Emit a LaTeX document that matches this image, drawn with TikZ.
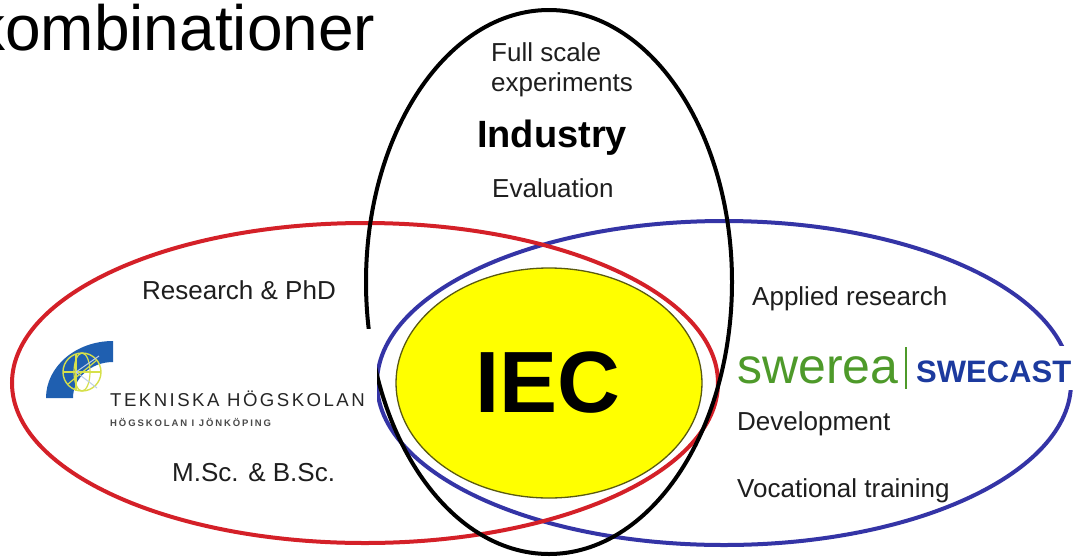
\documentclass[tikz,border=0pt]{standalone}
\usepackage{fontspec}
\setmainfont{Liberation Sans}
\definecolor{txt}{HTML}{1E1E1E}
\definecolor{ringred}{HTML}{D42028}
\definecolor{ringblue}{HTML}{3434A6}
\definecolor{iecyellow}{HTML}{FFFF00}
\definecolor{iecedge}{HTML}{5A5A10}
\definecolor{thblue}{HTML}{1F5FB0}
\definecolor{thglobe}{HTML}{D6E04A}
\definecolor{thtext}{HTML}{262626}
\definecolor{thsub}{HTML}{4A4A4A}
\definecolor{sgreen}{HTML}{4E9A2A}
\definecolor{sblue}{HTML}{1C3A9E}
\begin{document}
\begin{tikzpicture}[x=1pt,y=-1pt,
  lbl/.style={anchor=base west, inner sep=0pt, text=txt, font=\fontsize{26}{30}\selectfont},
  ring/.style={line width=4pt},
  cover/.style={fill=white, draw=none}
]
\useasboundingbox (0,0) rectangle (1074,558);
\fill[white] (0,0) rectangle (1074,558);

% title fragment (cut at the left edge, as in the reference)
\node[lbl, text=black, font=\fontsize{64}{66}\selectfont] (title) at (-27,50) {kombinationer};

% rings
\draw[ring, ringblue] (724,383) ellipse [x radius=347, y radius=162];
\draw[ring, ringred] (365,383) ellipse [x radius=353, y radius=160];
\draw[ring, black] (549,282) ellipse [x radius=183, y radius=272];
\draw[fill=iecyellow, draw=iecedge, line width=1.3pt] (549,383) ellipse [x radius=153, y radius=115];

% logo boxes
\path[cover] (36,329) rectangle (377,433);
\path[cover] (733,346) rectangle (1074,390);

% Tekniska Hogskolan emblem
\fill[thblue] (46,398) arc[start angle=180, end angle=270, x radius=67, y radius=57]
  -- (113,362) arc[start angle=270, end angle=180, x radius=40, y radius=36] -- cycle;
\draw[thglobe, line width=1.4pt] (82,372) circle [radius=19];
\draw[thglobe, line width=1.2pt] (63,372) -- (101,372);
\draw[thglobe, line width=1.2pt] (76,353.5) -- (76,390.5);
\draw[thglobe, line width=1.2pt] (82,372) ellipse [x radius=8, y radius=19];
\draw[white!70!thblue, line width=1pt] (76,372) -- (99,356);
\draw[white!70!thblue, line width=1pt] (76,372) -- (97,388);
\draw[thglobe, line width=1.2pt] (68,384) -- (97,360);

\node[anchor=base west, inner sep=0pt, text=thtext,
  font=\fontsize{18.6}{21}\selectfont\addfontfeatures{LetterSpace=13.3}] (th) at (110,406) {TEKNISKA HÖGSKOLAN};
\node[anchor=base west, inner sep=0pt, text=thsub,
  font=\fontsize{9.5}{12}\selectfont\bfseries\addfontfeatures{LetterSpace=20}] (thsub) at (110,426) {HÖGSKOLAN I JÖNKÖPING};

% Swerea Swecast logo
\node[anchor=base west, inner sep=0pt, text=sgreen, font=\fontsize{50}{52}\selectfont] (swerea) at (737,383) {swerea};
\draw[sgreen, line width=1.8pt] (906,347) -- (906,389);
\node[anchor=base west, inner sep=0pt, text=sblue, font=\fontsize{31}{33}\selectfont\bfseries] (swecast) at (916,382) {SWECAST};

% labels
\node[lbl] (full) at (491,61) {Full scale};
\node[lbl] (exp) at (491,91) {experiments};
\node[lbl, font=\fontsize{38}{40}\selectfont\bfseries, text=black] (ind) at (477,147) {Industry};
\node[lbl] (eval) at (492,197) {Evaluation};
\node[lbl] (res) at (142,299) {Research \& PhD};
\node[lbl] (app) at (752,305) {Applied research};
\node[lbl] (dev) at (737,430) {Development};
\node[lbl] (voc) at (737,497) {Vocational training};
\node[lbl] (msc) at (172,481) {M.Sc. \& B.Sc.};
\node[inner sep=0pt, text=black, font=\fontsize{87}{90}\selectfont\bfseries] (iec) at (548,383) {IEC};
\end{tikzpicture}
\end{document}
